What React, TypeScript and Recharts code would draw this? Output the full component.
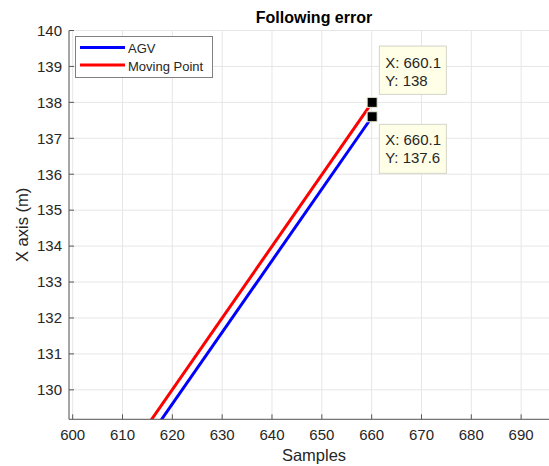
import React from 'react';
import { LineChart, Line, XAxis, YAxis, CartesianGrid, Legend, ReferenceDot, Label } from 'recharts';

const FONT = '"Liberation Sans", Arial, Helvetica, sans-serif';

// Data
const samplesAGV = [616.8, 660.1];
const valuesAGV = [128.97, 137.6];
const samplesMoving = [614.8, 660.1];
const valuesMoving = [128.97, 138];

const xTicks = [600, 610, 620, 630, 640, 650, 660, 670, 680, 690];
const yTicks = [130, 131, 132, 133, 134, 135, 136, 137, 138, 139, 140];

const dataTips = [
  { sample: 660.1, value: 138, side: 'above' },
  { sample: 660.1, value: 137.6, side: 'below' },
];

const agvData = samplesAGV.map((s, i) => ({ s, v: valuesAGV[i] }));
const movingData = samplesMoving.map((s, i) => ({ s, v: valuesMoving[i] }));

const AXIS = '#595959';
const TXT = '#262626';

const XTick = (props: any) => {
  const { x, y, payload } = props;
  const axisY = y - 10;
  return (
    <g>
      <line x1={x} x2={x} y1={axisY} y2={axisY - 5} stroke={AXIS} strokeWidth={1} />
      <text x={x} y={y} dy="0.71em" textAnchor="middle" fill={TXT} fontSize={15} fontFamily={FONT}>
        {payload.value}
      </text>
    </g>
  );
};

const YTick = (props: any) => {
  const { x, y, payload } = props;
  const axisX = x + 7;
  return (
    <g>
      <line x1={axisX} x2={axisX + 5} y1={y} y2={y} stroke={AXIS} strokeWidth={1} />
      <text x={x} y={y} dy="0.355em" textAnchor="end" fill={TXT} fontSize={15} fontFamily={FONT}>
        {payload.value}
      </text>
    </g>
  );
};

const XLabel = (props: any) => {
  const vb = props.viewBox || { x: 69, y: 419, width: 490, height: 47 };
  return (
    <text x={vb.x + vb.width / 2} y={vb.y + vb.height - 5} textAnchor="middle" fill={TXT} fontSize={16.5} fontFamily={FONT}>
      Samples
    </text>
  );
};

const YLabel = (props: any) => {
  const vb = props.viewBox || { x: 0, y: 30, width: 69, height: 389 };
  const cx = vb.x + 28.5;
  const cy = vb.y + vb.height / 2;
  return (
    <text x={cx} y={cy} transform={`rotate(-90, ${cx}, ${cy})`} textAnchor="middle" fill={TXT} fontSize={16.5} fontFamily={FONT}>
      X axis (m)
    </text>
  );
};

const LegendBox = (props: any) => {
  const payload = props.payload || [];
  return (
    <svg width={138} height={42} style={{ display: 'block' }}>
      <rect x={0.5} y={0.5} width={137} height={41} fill="#fff" stroke="#808080" strokeWidth={1} />
      {payload.map((p: any, i: number) => (
        <g key={i}>
          <line x1={5} x2={50} y1={11.5 + i * 17.5} y2={11.5 + i * 17.5} stroke={p.color} strokeWidth={3} />
          <text x={53} y={16.8 + i * 18.2} fill={TXT} fontSize={13} fontFamily={FONT}>
            {p.value}
          </text>
        </g>
      ))}
    </svg>
  );
};

const TipShape = (props: any) => {
  const { cx, cy, tip } = props;
  if (cx == null || cy == null) return null;
  const bx = cx + 7.2;
  const above = tip.side === 'above';
  const by = above ? cy - 56.3 : cy + 7.6;
  const bh = above ? 48.3 : 49;
  const b1 = above ? 22 : 21;
  return (
    <g>
      <rect x={bx} y={by} width={67} height={bh} fill="#FFFFE8" stroke="#d4d4c8" strokeWidth={1} />
      <text x={bx + 5.8} y={by + b1} fill={TXT} fontSize={15} fontFamily={FONT}>{`X: ${tip.sample}`}</text>
      <text x={bx + 5.8} y={by + b1 + 18} fill={TXT} fontSize={15} fontFamily={FONT}>{`Y: ${tip.value}`}</text>
      <rect x={cx - 5} y={cy - 5} width={10} height={10} fill="#000" stroke="#e8e8d8" strokeWidth={1} />
    </g>
  );
};

export default function App() {
  return (
    <div style={{ position: 'absolute', left: 0, top: 0, width: 549, height: 466, overflow: 'hidden', background: '#fff', fontFamily: FONT }}>
      <svg width={549} height={30} style={{ position: 'absolute', left: 0, top: 0 }}>
        <text x={314} y={22.7} textAnchor="middle" fontWeight="bold" fontSize={16} fill="#000" fontFamily={FONT}>
          Following error
        </text>
      </svg>
      <div style={{ position: 'absolute', left: 0, top: 0 }}>
        <LineChart width={560} height={466} margin={{ top: 30.5, right: 1, bottom: 0, left: 0 }}>
          <CartesianGrid stroke="#e6e6e6" strokeWidth={1} />
          <XAxis
            type="number"
            dataKey="s"
            domain={[599.26, 697.6]}
            ticks={xTicks}
            interval={0}
            allowDataOverflow
            height={46.7}
            tickSize={0}
            tickMargin={10}
            tickLine={false}
            tick={<XTick />}
            axisLine={{ stroke: AXIS, strokeWidth: 1 }}
          >
            <Label content={<XLabel />} />
          </XAxis>
          <YAxis
            type="number"
            domain={[129.18, 140]}
            ticks={yTicks}
            interval={0}
            allowDataOverflow
            width={69}
            tickSize={0}
            tickMargin={7}
            tickLine={false}
            tick={<YTick />}
            axisLine={{ stroke: AXIS, strokeWidth: 1 }}
          >
            <Label content={<YLabel />} />
          </YAxis>
          <Legend
            layout="vertical"
            align="center"
            verticalAlign="middle"
            content={<LegendBox />}
            wrapperStyle={{ position: 'absolute', left: 75, top: 36, width: 138, height: 42, margin: 0, padding: 0 }}
          />
          <Line data={agvData} dataKey="v" name="AGV" stroke="#0000FF" strokeWidth={3} dot={false} isAnimationActive={false} />
          <Line data={movingData} dataKey="v" name="Moving Point" stroke="#FF0000" strokeWidth={3} dot={false} isAnimationActive={false} />
          {dataTips.map((t, i) => (
            <ReferenceDot key={i} x={t.sample} y={t.value} r={5} shape={(p: any) => <TipShape {...p} tip={t} />} />
          ))}
        </LineChart>
      </div>
    </div>
  );
}
